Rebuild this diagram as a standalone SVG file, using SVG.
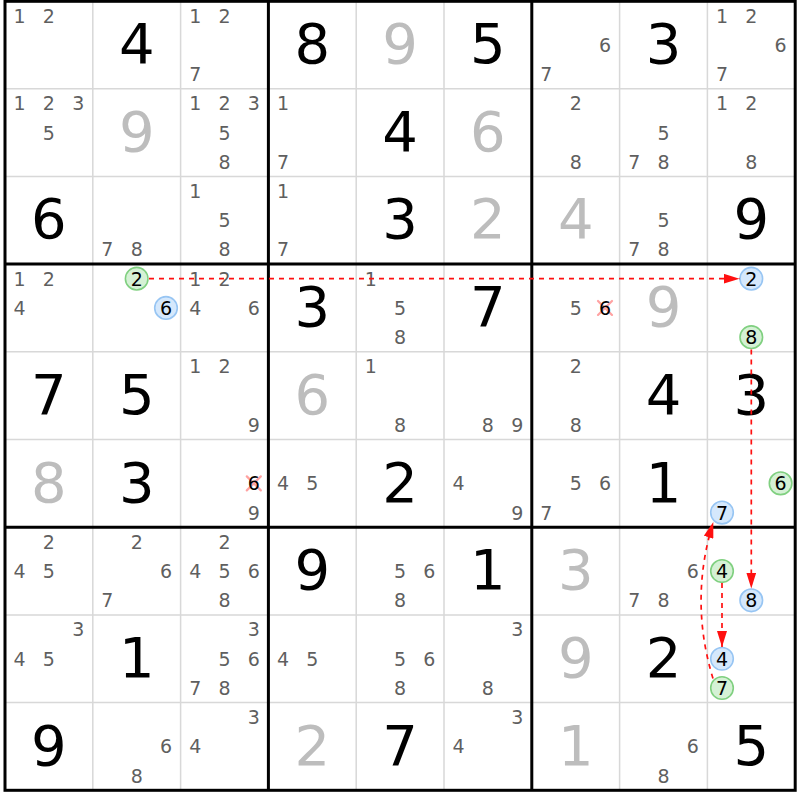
<svg xmlns="http://www.w3.org/2000/svg" width="800" height="800" viewBox="0 0 800 800">
<style>
text{font-family:"DejaVu Sans","Liberation Sans",sans-serif;text-anchor:middle}
.c{font-size:19px;fill:#5f5f5f}
.k{font-size:19px;fill:#000}
.g{font-size:56px;fill:#000}
.s{font-size:56px;fill:#bdbdbd}
.hg{fill:#d5f1d5;stroke:#80d080;stroke-width:1.6}
.hb{fill:#d5e8fc;stroke:#97c5f3;stroke-width:1.6}
.x{stroke:#ff8c8c;stroke-width:2.2;stroke-linecap:round;opacity:0.8}
.thin{stroke:#d8d8d8;stroke-width:1.5}
.thick{stroke:#000;stroke-width:3}
.ar{fill:none;stroke:#ff1010;stroke-width:1.7;stroke-dasharray:5 5}
</style>
<defs>
<marker id="ah" viewBox="0 0 16 10" refX="16" refY="5" markerWidth="16" markerHeight="10" markerUnits="userSpaceOnUse" orient="auto"><path d="M0,0L16,5L0,10z" fill="#ff1010"/></marker>
</defs>
<rect width="800" height="800" fill="#fff"/>
<g id="grid">
<path class="thin" d="M92.8,1V790.3M180.6,1V790.3M356.2,1V790.3M444,1V790.3M619.6,1V790.3M707.4,1V790.3M5,88.7H795.2M5,176.4H795.2M5,351.8H795.2M5,439.5H795.2M5,614.9H795.2M5,702.6H795.2"/>
<path class="thick" d="M268.4,1V790.3M531.8,1V790.3M5,264.1H795.2M5,527.2H795.2"/>
<rect class="thick" x="5" y="1.3" width="790.2" height="789" fill="none"/>
</g>
<g id="r1c1" transform="translate(5,1)"><text class="c" x="14.6" y="21.6">1</text><text class="c" x="43.9" y="21.6">2</text></g>
<g id="r1c2" transform="translate(92.8,1)"><text class="g" x="43.9" y="62">4</text></g>
<g id="r1c3" transform="translate(180.6,1)"><text class="c" x="14.6" y="21.6">1</text><text class="c" x="43.9" y="21.6">2</text><text class="c" x="14.6" y="80.1">7</text></g>
<g id="r1c4" transform="translate(268.4,1)"><text class="g" x="43.9" y="62">8</text></g>
<g id="r1c5" transform="translate(356.2,1)"><text class="s" x="43.9" y="62">9</text></g>
<g id="r1c6" transform="translate(444,1)"><text class="g" x="43.9" y="62">5</text></g>
<g id="r1c7" transform="translate(531.8,1)"><text class="c" x="73.2" y="50.85">6</text><text class="c" x="14.6" y="80.1">7</text></g>
<g id="r1c8" transform="translate(619.6,1)"><text class="g" x="43.9" y="62">3</text></g>
<g id="r1c9" transform="translate(707.4,1)"><text class="c" x="14.6" y="21.6">1</text><text class="c" x="43.9" y="21.6">2</text><text class="c" x="73.2" y="50.85">6</text><text class="c" x="14.6" y="80.1">7</text></g>

<g id="r2c1" transform="translate(5,88.7)"><text class="c" x="14.6" y="21.6">1</text><text class="c" x="43.9" y="21.6">2</text><text class="c" x="73.2" y="21.6">3</text><text class="c" x="43.9" y="50.85">5</text></g>
<g id="r2c2" transform="translate(92.8,88.7)"><text class="s" x="43.9" y="62">9</text></g>
<g id="r2c3" transform="translate(180.6,88.7)"><text class="c" x="14.6" y="21.6">1</text><text class="c" x="43.9" y="21.6">2</text><text class="c" x="73.2" y="21.6">3</text><text class="c" x="43.9" y="50.85">5</text><text class="c" x="43.9" y="80.1">8</text></g>
<g id="r2c4" transform="translate(268.4,88.7)"><text class="c" x="14.6" y="21.6">1</text><text class="c" x="14.6" y="80.1">7</text></g>
<g id="r2c5" transform="translate(356.2,88.7)"><text class="g" x="43.9" y="62">4</text></g>
<g id="r2c6" transform="translate(444,88.7)"><text class="s" x="43.9" y="62">6</text></g>
<g id="r2c7" transform="translate(531.8,88.7)"><text class="c" x="43.9" y="21.6">2</text><text class="c" x="43.9" y="80.1">8</text></g>
<g id="r2c8" transform="translate(619.6,88.7)"><text class="c" x="43.9" y="50.85">5</text><text class="c" x="14.6" y="80.1">7</text><text class="c" x="43.9" y="80.1">8</text></g>
<g id="r2c9" transform="translate(707.4,88.7)"><text class="c" x="14.6" y="21.6">1</text><text class="c" x="43.9" y="21.6">2</text><text class="c" x="43.9" y="80.1">8</text></g>

<g id="r3c1" transform="translate(5,176.4)"><text class="g" x="43.9" y="62">6</text></g>
<g id="r3c2" transform="translate(92.8,176.4)"><text class="c" x="14.6" y="80.1">7</text><text class="c" x="43.9" y="80.1">8</text></g>
<g id="r3c3" transform="translate(180.6,176.4)"><text class="c" x="14.6" y="21.6">1</text><text class="c" x="43.9" y="50.85">5</text><text class="c" x="43.9" y="80.1">8</text></g>
<g id="r3c4" transform="translate(268.4,176.4)"><text class="c" x="14.6" y="21.6">1</text><text class="c" x="14.6" y="80.1">7</text></g>
<g id="r3c5" transform="translate(356.2,176.4)"><text class="g" x="43.9" y="62">3</text></g>
<g id="r3c6" transform="translate(444,176.4)"><text class="s" x="43.9" y="62">2</text></g>
<g id="r3c7" transform="translate(531.8,176.4)"><text class="s" x="43.9" y="62">4</text></g>
<g id="r3c8" transform="translate(619.6,176.4)"><text class="c" x="43.9" y="50.85">5</text><text class="c" x="14.6" y="80.1">7</text><text class="c" x="43.9" y="80.1">8</text></g>
<g id="r3c9" transform="translate(707.4,176.4)"><text class="g" x="43.9" y="62">9</text></g>

<g id="r4c1" transform="translate(5,264.1)"><text class="c" x="14.6" y="21.6">1</text><text class="c" x="43.9" y="21.6">2</text><text class="c" x="14.6" y="50.85">4</text></g>
<g id="r4c2" transform="translate(92.8,264.1)"><circle class="hg" cx="43.9" cy="14.6" r="11.3"/><text class="k" x="43.9" y="21.6">2</text><circle class="hb" cx="73.2" cy="43.85" r="11.3"/><text class="k" x="73.2" y="50.85">6</text></g>
<g id="r4c3" transform="translate(180.6,264.1)"><text class="c" x="14.6" y="21.6">1</text><text class="c" x="43.9" y="21.6">2</text><text class="c" x="14.6" y="50.85">4</text><text class="c" x="73.2" y="50.85">6</text></g>
<g id="r4c4" transform="translate(268.4,264.1)"><text class="g" x="43.9" y="62">3</text></g>
<g id="r4c5" transform="translate(356.2,264.1)"><text class="c" x="14.6" y="21.6">1</text><text class="c" x="43.9" y="50.85">5</text><text class="c" x="43.9" y="80.1">8</text></g>
<g id="r4c6" transform="translate(444,264.1)"><text class="g" x="43.9" y="62">7</text></g>
<g id="r4c7" transform="translate(531.8,264.1)"><text class="c" x="43.9" y="50.85">5</text><path class="x" d="M66.2,36.85L80.2,50.85M80.2,36.85L66.2,50.85"/><text class="k" x="73.2" y="50.85">6</text></g>
<g id="r4c8" transform="translate(619.6,264.1)"><text class="s" x="43.9" y="62">9</text></g>
<g id="r4c9" transform="translate(707.4,264.1)"><circle class="hb" cx="43.9" cy="14.6" r="11.3"/><text class="k" x="43.9" y="21.6">2</text><circle class="hg" cx="43.9" cy="73.1" r="11.3"/><text class="k" x="43.9" y="80.1">8</text></g>

<g id="r5c1" transform="translate(5,351.8)"><text class="g" x="43.9" y="62">7</text></g>
<g id="r5c2" transform="translate(92.8,351.8)"><text class="g" x="43.9" y="62">5</text></g>
<g id="r5c3" transform="translate(180.6,351.8)"><text class="c" x="14.6" y="21.6">1</text><text class="c" x="43.9" y="21.6">2</text><text class="c" x="73.2" y="80.1">9</text></g>
<g id="r5c4" transform="translate(268.4,351.8)"><text class="s" x="43.9" y="62">6</text></g>
<g id="r5c5" transform="translate(356.2,351.8)"><text class="c" x="14.6" y="21.6">1</text><text class="c" x="43.9" y="80.1">8</text></g>
<g id="r5c6" transform="translate(444,351.8)"><text class="c" x="43.9" y="80.1">8</text><text class="c" x="73.2" y="80.1">9</text></g>
<g id="r5c7" transform="translate(531.8,351.8)"><text class="c" x="43.9" y="21.6">2</text><text class="c" x="43.9" y="80.1">8</text></g>
<g id="r5c8" transform="translate(619.6,351.8)"><text class="g" x="43.9" y="62">4</text></g>
<g id="r5c9" transform="translate(707.4,351.8)"><text class="g" x="43.9" y="62">3</text></g>

<g id="r6c1" transform="translate(5,439.5)"><text class="s" x="43.9" y="62">8</text></g>
<g id="r6c2" transform="translate(92.8,439.5)"><text class="g" x="43.9" y="62">3</text></g>
<g id="r6c3" transform="translate(180.6,439.5)"><path class="x" d="M66.2,36.85L80.2,50.85M80.2,36.85L66.2,50.85"/><text class="k" x="73.2" y="50.85">6</text><text class="c" x="73.2" y="80.1">9</text></g>
<g id="r6c4" transform="translate(268.4,439.5)"><text class="c" x="14.6" y="50.85">4</text><text class="c" x="43.9" y="50.85">5</text></g>
<g id="r6c5" transform="translate(356.2,439.5)"><text class="g" x="43.9" y="62">2</text></g>
<g id="r6c6" transform="translate(444,439.5)"><text class="c" x="14.6" y="50.85">4</text><text class="c" x="73.2" y="80.1">9</text></g>
<g id="r6c7" transform="translate(531.8,439.5)"><text class="c" x="43.9" y="50.85">5</text><text class="c" x="73.2" y="50.85">6</text><text class="c" x="14.6" y="80.1">7</text></g>
<g id="r6c8" transform="translate(619.6,439.5)"><text class="g" x="43.9" y="62">1</text></g>
<g id="r6c9" transform="translate(707.4,439.5)"><circle class="hg" cx="73.2" cy="43.85" r="11.3"/><text class="k" x="73.2" y="50.85">6</text><circle class="hb" cx="14.6" cy="73.1" r="11.3"/><text class="k" x="14.6" y="80.1">7</text></g>

<g id="r7c1" transform="translate(5,527.2)"><text class="c" x="43.9" y="21.6">2</text><text class="c" x="14.6" y="50.85">4</text><text class="c" x="43.9" y="50.85">5</text></g>
<g id="r7c2" transform="translate(92.8,527.2)"><text class="c" x="43.9" y="21.6">2</text><text class="c" x="73.2" y="50.85">6</text><text class="c" x="14.6" y="80.1">7</text></g>
<g id="r7c3" transform="translate(180.6,527.2)"><text class="c" x="43.9" y="21.6">2</text><text class="c" x="14.6" y="50.85">4</text><text class="c" x="43.9" y="50.85">5</text><text class="c" x="73.2" y="50.85">6</text><text class="c" x="43.9" y="80.1">8</text></g>
<g id="r7c4" transform="translate(268.4,527.2)"><text class="g" x="43.9" y="62">9</text></g>
<g id="r7c5" transform="translate(356.2,527.2)"><text class="c" x="43.9" y="50.85">5</text><text class="c" x="73.2" y="50.85">6</text><text class="c" x="43.9" y="80.1">8</text></g>
<g id="r7c6" transform="translate(444,527.2)"><text class="g" x="43.9" y="62">1</text></g>
<g id="r7c7" transform="translate(531.8,527.2)"><text class="s" x="43.9" y="62">3</text></g>
<g id="r7c8" transform="translate(619.6,527.2)"><text class="c" x="73.2" y="50.85">6</text><text class="c" x="14.6" y="80.1">7</text><text class="c" x="43.9" y="80.1">8</text></g>
<g id="r7c9" transform="translate(707.4,527.2)"><circle class="hg" cx="14.6" cy="43.85" r="11.3"/><text class="k" x="14.6" y="50.85">4</text><circle class="hb" cx="43.9" cy="73.1" r="11.3"/><text class="k" x="43.9" y="80.1">8</text></g>

<g id="r8c1" transform="translate(5,614.9)"><text class="c" x="73.2" y="21.6">3</text><text class="c" x="14.6" y="50.85">4</text><text class="c" x="43.9" y="50.85">5</text></g>
<g id="r8c2" transform="translate(92.8,614.9)"><text class="g" x="43.9" y="62">1</text></g>
<g id="r8c3" transform="translate(180.6,614.9)"><text class="c" x="73.2" y="21.6">3</text><text class="c" x="43.9" y="50.85">5</text><text class="c" x="73.2" y="50.85">6</text><text class="c" x="14.6" y="80.1">7</text><text class="c" x="43.9" y="80.1">8</text></g>
<g id="r8c4" transform="translate(268.4,614.9)"><text class="c" x="14.6" y="50.85">4</text><text class="c" x="43.9" y="50.85">5</text></g>
<g id="r8c5" transform="translate(356.2,614.9)"><text class="c" x="43.9" y="50.85">5</text><text class="c" x="73.2" y="50.85">6</text><text class="c" x="43.9" y="80.1">8</text></g>
<g id="r8c6" transform="translate(444,614.9)"><text class="c" x="73.2" y="21.6">3</text><text class="c" x="43.9" y="80.1">8</text></g>
<g id="r8c7" transform="translate(531.8,614.9)"><text class="s" x="43.9" y="62">9</text></g>
<g id="r8c8" transform="translate(619.6,614.9)"><text class="g" x="43.9" y="62">2</text></g>
<g id="r8c9" transform="translate(707.4,614.9)"><circle class="hb" cx="14.6" cy="43.85" r="11.3"/><text class="k" x="14.6" y="50.85">4</text><circle class="hg" cx="14.6" cy="73.1" r="11.3"/><text class="k" x="14.6" y="80.1">7</text></g>

<g id="r9c1" transform="translate(5,702.6)"><text class="g" x="43.9" y="62">9</text></g>
<g id="r9c2" transform="translate(92.8,702.6)"><text class="c" x="73.2" y="50.85">6</text><text class="c" x="43.9" y="80.1">8</text></g>
<g id="r9c3" transform="translate(180.6,702.6)"><text class="c" x="73.2" y="21.6">3</text><text class="c" x="14.6" y="50.85">4</text></g>
<g id="r9c4" transform="translate(268.4,702.6)"><text class="s" x="43.9" y="62">2</text></g>
<g id="r9c5" transform="translate(356.2,702.6)"><text class="g" x="43.9" y="62">7</text></g>
<g id="r9c6" transform="translate(444,702.6)"><text class="c" x="73.2" y="21.6">3</text><text class="c" x="14.6" y="50.85">4</text></g>
<g id="r9c7" transform="translate(531.8,702.6)"><text class="s" x="43.9" y="62">1</text></g>
<g id="r9c8" transform="translate(619.6,702.6)"><text class="c" x="73.2" y="50.85">6</text><text class="c" x="43.9" y="80.1">8</text></g>
<g id="r9c9" transform="translate(707.4,702.6)"><text class="g" x="43.9" y="62">5</text></g>

<g id="connectors">
<path class="ar" marker-end="url(#ah)" d="M149,278.7H739.5"/>
<path class="ar" marker-end="url(#ah)" d="M751.3,349.5V588.5"/>
<path class="ar" marker-end="url(#ah)" d="M722,583V647"/>
<path class="ar" marker-end="url(#ah)" d="M713,678.5Q689,600 713.3,522"/>
</g>
</svg>
